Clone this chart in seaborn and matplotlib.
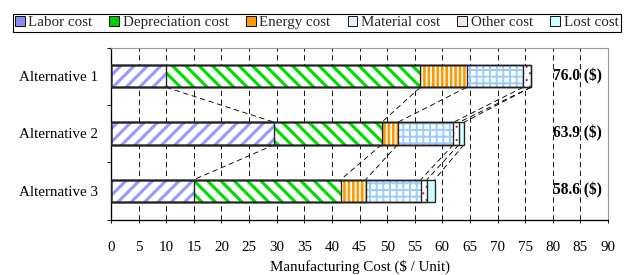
import pandas as pd
import seaborn as sns
import matplotlib.pyplot as plt
from matplotlib.patches import Patch

# data ($ / unit)
alternatives = ["Alternative 1", "Alternative 2", "Alternative 3"]
cost_names = ["Labor cost", "Depreciation cost", "Energy cost",
              "Material cost", "Other cost", "Lost cost"]
labor_cost = [10.0, 29.6, 15.0]
depreciation_cost = [46.0, 19.4, 26.6]
energy_cost = [8.4, 2.9, 4.5]
material_cost = [10.2, 10.1, 10.0]
other_cost = [1.4, 1.0, 1.1]
lost_cost = [0.0, 0.9, 1.4]
totals = [76.0, 63.9, 58.6]
x_ticks = list(range(0, 95, 5))

# style per cost component: (hatch color, face color, hatch, hatch linewidth)
styles = [
    ("#9999ff", "white", "//", 2.8),
    ("#00dd00", "white", "\\\\", 2.8),
    ("#ff9900", "white", "|||", 2.4),
    ("#99ccff", "white", "++", 1.8),
    ("#993366", "white", "..", 0.8),
    ("#ccffff", "#ccffff", "", 1.0),
]
legend_colors = ["#8c8cf0", "#00cc00", "#ff9900", "#e4f0ff", "#f2e6ec", "#ccffff"]

sns.set_theme(style="white")
plt.rcParams["font.family"] = ["Liberation Serif", "DejaVu Serif"]
plt.rcParams["hatch.linewidth"] = 3.0

df = pd.DataFrame({
    "alternative": alternatives,
    "Labor cost": labor_cost,
    "Depreciation cost": depreciation_cost,
    "Energy cost": energy_cost,
    "Material cost": material_cost,
    "Other cost": other_cost,
    "Lost cost": lost_cost,
})
cum = df[cost_names].cumsum(axis=1)

DPI = 80
fig = plt.figure(figsize=(628 / DPI, 275 / DPI), dpi=DPI)
ax = fig.add_axes([111 / 628, 1 - 219.5 / 275, 497 / 628, 172 / 275])

bar_h = 0.39

# widest cumulative layer first, shorter ones drawn on top of it
for k in range(len(cost_names) - 1, -1, -1):
    hcol, face, hatch, hlw = styles[k]
    n_before = len(ax.patches)
    with plt.rc_context({"hatch.linewidth": hlw}):
        sns.barplot(x=cum[cost_names[k]], y=df["alternative"], ax=ax, orient="h",
                    width=bar_h, color=face, edgecolor=hcol, hatch=hatch or None,
                    linewidth=0, saturation=1, errorbar=None, zorder=3 + 0.1 * (6 - k))
    for p in ax.patches[n_before:]:
        p.set_facecolor(face)
        if hasattr(p, "set_hatch_linewidth"):
            p.set_hatch_linewidth(hlw)

# black outlines of every segment
for k in range(len(cost_names)):
    sns.barplot(x=cum[cost_names[k]], y=df["alternative"], ax=ax, orient="h",
                width=bar_h, fill=False, edgecolor="#222222", linewidth=1.2,
                errorbar=None, zorder=5)

# dashed connectors between segment boundaries
for i in range(len(alternatives) - 1):
    for k in range(len(cost_names)):
        ax.plot([cum.iloc[i, k], cum.iloc[i + 1, k]],
                [i + bar_h / 2, i + 1 - bar_h / 2],
                color="black", lw=0.8, ls=(0, (6, 4)), zorder=2)

for i, t in enumerate(totals):
    ax.text(80, i, f"{t:.1f} ($)", ha="left", va="center",
            fontsize=14, fontweight="bold", color="black", zorder=6)

ax.set_xlim(0, 90)
ax.set_ylim(2.5, -0.5)
ax.set_xticks(x_ticks)
ax.set_xticklabels([str(v) for v in x_ticks])
ax.set_yticks(range(len(alternatives)))
ax.set_yticklabels(alternatives)
ax.set_yticks([-0.5, 0.5, 1.5, 2.5], minor=True)
ax.grid(axis="x", color="black", lw=0.8, ls=(0, (6, 4)))
ax.grid(axis="y", visible=False)
ax.set_axisbelow(True)

ax.tick_params(axis="x", bottom=True, direction="out", length=3, width=0.8,
               color="black", labelsize=13.5, pad=16, labelcolor="black")
ax.tick_params(axis="y", which="major", left=True, length=0, pad=12,
               labelsize=13.5, labelcolor="black")
ax.tick_params(axis="y", which="minor", left=True, direction="out", length=4,
               width=0.8, color="black")
ax.set_xlabel("Manufacturing Cost ($ / Unit)", fontsize=13.5, labelpad=6, color="black")
ax.set_ylabel("")

for side in ["left", "bottom"]:
    ax.spines[side].set_color("black")
    ax.spines[side].set_linewidth(1.2)
for side in ["top", "right"]:
    ax.spines[side].set_color("#999999")
    ax.spines[side].set_linewidth(1.0)

handles = [Patch(facecolor=c, edgecolor="black", linewidth=0.8) for c in legend_colors]
leg = fig.legend(handles, cost_names, loc="lower left",
                 bbox_to_anchor=(12.5 / 628, 1 - 31.5 / 275, 608 / 628, 21 / 275),
                 mode="expand", ncol=6, fontsize=13.5, frameon=True, fancybox=False,
                 framealpha=1, edgecolor="black", handlelength=0.65, handleheight=0.65,
                 handletextpad=0.25, columnspacing=0.4, borderpad=0.15,
                 borderaxespad=0)
leg.get_frame().set_linewidth(1.0)

fig.savefig("out.png", dpi=DPI)
